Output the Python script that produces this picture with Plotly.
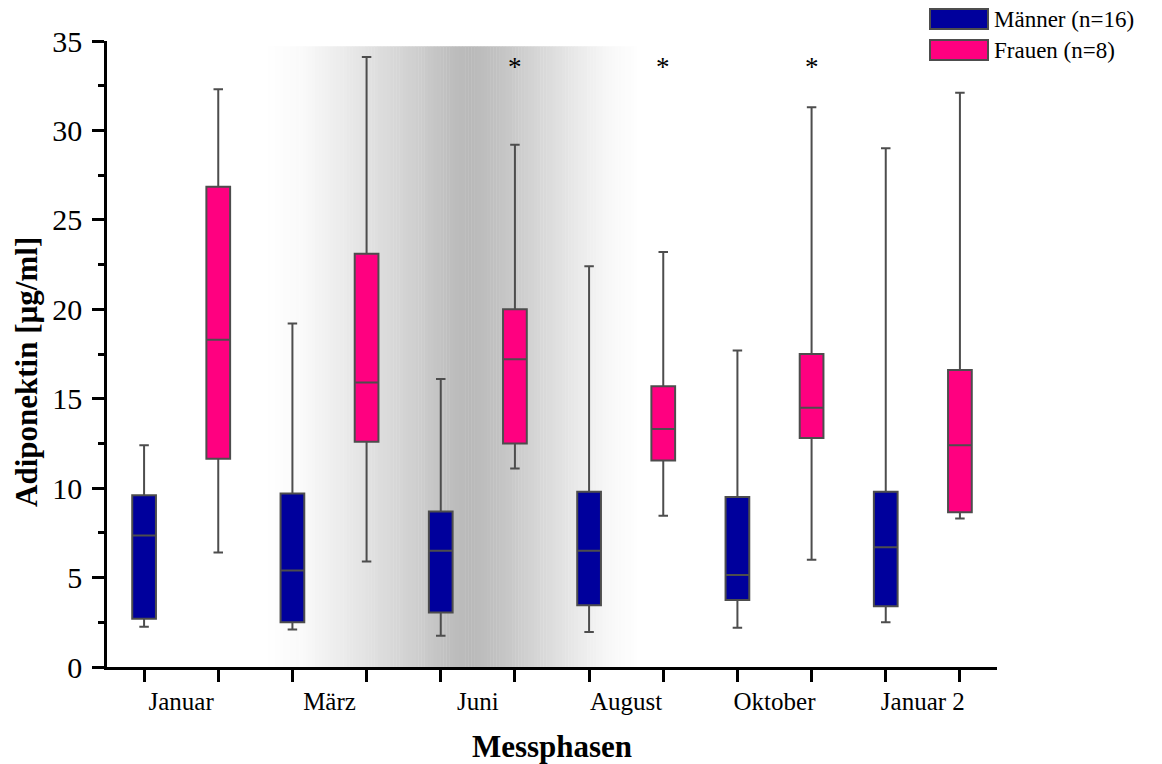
import numpy as np
import plotly.graph_objects as go

# ---- data ----
phases = ["Januar", "März", "Juni", "August", "Oktober", "Januar 2"]

m_low = [2.25, 2.1, 1.75, 1.95, 2.2, 2.5]
m_q1 = [2.7, 2.5, 3.05, 3.45, 3.75, 3.4]
m_med = [7.35, 5.4, 6.5, 6.5, 5.15, 6.7]
m_q3 = [9.6, 9.7, 8.7, 9.8, 9.5, 9.8]
m_high = [12.4, 19.2, 16.1, 22.4, 17.7, 29.0]

f_low = [6.4, 5.9, 11.1, 8.45, 6.0, 8.3]
f_q1 = [11.65, 12.6, 12.5, 11.55, 12.8, 8.65]
f_med = [18.3, 15.9, 17.2, 13.3, 14.5, 12.4]
f_q3 = [26.85, 23.1, 20.0, 15.7, 17.5, 16.6]
f_high = [32.3, 34.1, 29.2, 23.2, 31.3, 32.1]

star_phases = ["Juni", "August", "Oktober"]
star_y = 33.55

y_ticks = [0, 5, 10, 15, 20, 25, 30, 35]

# ---- positions ----
m_x = [2 * i for i in range(len(phases))]
f_x = [2 * i + 1 for i in range(len(phases))]
label_x = [2 * i + 0.5 for i in range(len(phases))]

FONT = "Liberation Serif, Times New Roman, serif"
BLUE = "#00009C"
PINK = "#FF0080"
EDGE = "#4d4d4d"

fig = go.Figure()

fig.add_trace(go.Box(
    name="Männer (n=16)", x=m_x, lowerfence=m_low, q1=m_q1, median=m_med,
    q3=m_q3, upperfence=m_high, width=0.32, whiskerwidth=0.4,
    fillcolor=BLUE, line=dict(color=EDGE, width=2), showlegend=False,
    boxpoints=False,
))
fig.add_trace(go.Box(
    name="Frauen (n=8)", x=f_x, lowerfence=f_low, q1=f_q1, median=f_med,
    q3=f_q3, upperfence=f_high, width=0.32, whiskerwidth=0.4,
    fillcolor=PINK, line=dict(color=EDGE, width=2), showlegend=False,
    boxpoints=False,
))

# ---- background gradient (decoration) ----
g_x = [1.63, 2.10, 2.51, 3.05, 3.72, 4.13, 4.40, 4.80, 5.34, 5.88, 6.28, 6.69]
g_v = [255, 250, 240, 225, 205, 190, 185, 195, 215, 235, 248, 255]
shapes = []
edges = np.linspace(g_x[0], g_x[-1], 121)
for a, b in zip(edges[:-1], edges[1:]):
    v = int(round(np.interp((a + b) / 2, g_x, g_v)))
    shapes.append(dict(type="rect", xref="x", yref="y", x0=a, x1=b + 0.005,
                       y0=-0.5, y1=34.7, fillcolor=f"rgb({v},{v},{v})",
                       line=dict(width=0), layer="below"))

# ---- manual legend ----
px_l, px_r, py_b, py_t = 107, 997, 667, 41
def xp(px):
    return (px - px_l) / (px_r - px_l)
def yp(py):
    return (py_b - py) / (py_b - py_t)

legend_items = [("Männer (n=16)", BLUE, 9, 29), ("Frauen (n=8)", PINK, 40, 60)]
annotations = []
for text, col, top, bot in legend_items:
    shapes.append(dict(type="rect", xref="paper", yref="paper",
                       x0=xp(930), x1=xp(988), y0=yp(bot), y1=yp(top),
                       fillcolor=col, line=dict(color=EDGE, width=2)))
    annotations.append(dict(xref="paper", yref="paper", x=xp(992),
                            y=yp((top + bot) / 2), text=text, showarrow=False,
                            xanchor="left", yanchor="middle",
                            font=dict(family=FONT, size=23, color="black")))

for p in star_phases:
    annotations.append(dict(x=f_x[phases.index(p)], y=star_y, text="*",
                            showarrow=False, xanchor="center", yanchor="middle",
                            font=dict(family=FONT, size=27, color="black")))

# y-axis title (placed as in the reference, slightly below the plot centre)
annotations.append(dict(xref="paper", yref="paper", x=xp(26), y=yp(372),
                        text="<b>Adiponektin [µg/ml]</b>", textangle=-90,
                        showarrow=False, xanchor="center", yanchor="middle",
                        font=dict(family=FONT, size=31, color="black")))

fig.update_layout(
    width=1162, height=764,
    margin=dict(l=107, r=165, t=41, b=97, autoexpand=False),
    paper_bgcolor="white", plot_bgcolor="white",
    boxmode="overlay",
    shapes=shapes, annotations=annotations,
    font=dict(family=FONT, color="black"),
)

fig.update_xaxes(
    range=[-0.5, 11.5], showgrid=False, zeroline=False,
    showline=True, linecolor="black", linewidth=2.5,
    tickvals=label_x, ticktext=phases, ticks="",
    tickfont=dict(family=FONT, size=25, color="black"),
    ticklabelstandoff=10,
    minor=dict(tick0=0, dtick=1, ticks="outside", ticklen=12, tickwidth=2.5,
               tickcolor="black", showgrid=False),
    title=dict(text="<b>Messphasen</b>", font=dict(family=FONT, size=31, color="black"),
               standoff=22),
)
fig.update_yaxes(
    range=[0, 35], showgrid=False, zeroline=False,
    showline=True, linecolor="black", linewidth=2.5,
    tickvals=y_ticks, ticks="outside", ticklen=12, tickwidth=2.5, tickcolor="black",
    tickfont=dict(family=FONT, size=30, color="black"),
    ticklabelstandoff=4,
    minor=dict(tick0=0, dtick=2.5, ticks="outside", ticklen=6, tickwidth=2.5,
               tickcolor="black", showgrid=False),
)

fig.write_html(
    "out.html",
    config={"displayModeBar": False},
    post_script="document.body.style.margin='0px';document.body.style.overflow='hidden';",
)
